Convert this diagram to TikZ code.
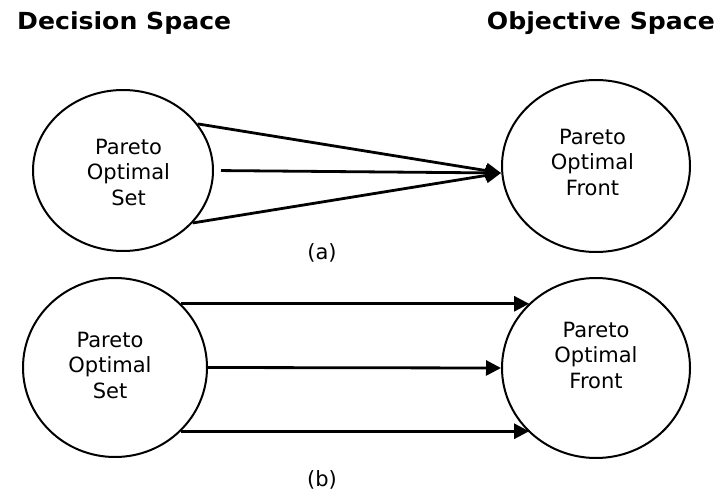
\documentclass[tikz,border=0pt]{standalone}
\usepackage{fontspec}
\setmainfont{DejaVu Sans}
\newfontfamily\titlefont{DejaVu Sans}[FakeStretch=1.07]
\usetikzlibrary{shapes.geometric, arrows.meta}
\begin{document}
\begin{tikzpicture}[x=1pt,y=-1pt,
  setshape/.style={ellipse, draw, line width=2pt, inner sep=0pt},
  lbl/.style={font=\fontsize{21}{25.5}\selectfont, align=center, inner sep=0pt},
  maparrow/.style={line width=2.8pt, -{Triangle[length=15pt,width=15pt]}},
  titletext/.style={font=\titlefont\bfseries\fontsize{23.5}{28}\selectfont, inner sep=0pt}]
\useasboundingbox (0,0) rectangle (720,495);
\node[titletext, anchor=base west] (ds) at (17,30) {Decision Space};
\node[titletext, anchor=base east] (os) at (715,30) {Objective Space};

\node[setshape, minimum width=180pt, minimum height=161pt] (A) at (123,170.5) {};
\node[setshape, minimum width=188pt, minimum height=172pt] (B) at (596,166) {};
\node[setshape, minimum width=184pt, minimum height=179pt] (C) at (115,367.5) {};
\node[setshape, minimum width=188pt, minimum height=180pt] (D) at (596,368) {};

\node[lbl] (tA) at (128.5,172) {Pareto\\Optimal\\Set};
\node[lbl] (tB) at (592.5,162) {Pareto\\Optimal\\Front};
\node[lbl] (tC) at (110,365) {Pareto\\Optimal\\Set};
\node[lbl] (tD) at (596,355) {Pareto\\Optimal\\Front};

\draw[maparrow] (A.32) -- ([yshift=-7pt]B.west);
\draw[maparrow, shorten <=7pt] (A.east) -- ([yshift=-7pt]B.west);
\draw[maparrow] (A.-37) -- ([yshift=-7pt]B.west);

\draw[maparrow] (C.44) -- (C.44 -| D.136);
\draw[maparrow] (C.east) -- (D.west);
\draw[maparrow] (C.-44) -- (C.-44 -| D.-136);

\node[lbl, anchor=base] (la) at (322,259) {(a)};
\node[lbl, anchor=base] (lb) at (322,486) {(b)};
\end{tikzpicture}
\end{document}
